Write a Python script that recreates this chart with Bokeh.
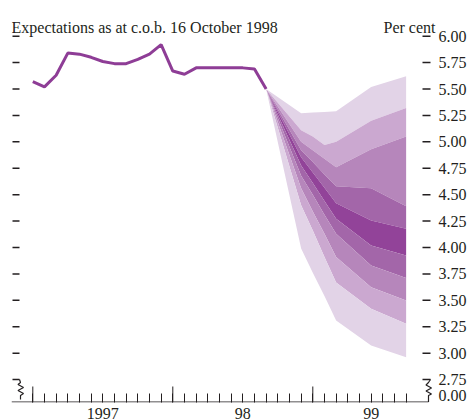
from bokeh.plotting import figure
from bokeh.models import Range1d, LinearAxis, FixedTicker, Label, CustomJSTickFormatter
from bokeh.embed import file_html
from bokeh.resources import INLINE

# ---------------- data ----------------
# months counted from January 1997 (= 0)
hist_months = list(range(21))
cash_rate = [5.57, 5.52, 5.63, 5.84, 5.83, 5.80, 5.76, 5.74, 5.74, 5.78, 5.83,
             5.92, 5.67, 5.64, 5.70, 5.70, 5.70, 5.70, 5.70, 5.69, 5.50]

fan_months = [20, 23, 24, 25, 26, 29, 32]
# band boundaries, from top (b0) to bottom (b9)
b0 = [5.50, 5.27, 5.277, 5.283, 5.29, 5.52, 5.62]
b1 = [5.50, 5.11, 5.05, 4.97, 5.00, 5.20, 5.32]
b2 = [5.50, 5.00, 4.92, 4.84, 4.76, 4.93, 5.05]
b3 = [5.50, 4.92, 4.81, 4.69, 4.58, 4.56, 4.39]
b4 = [5.50, 4.855, 4.71, 4.565, 4.42, 4.256, 4.177]
b5 = [5.50, 4.776, 4.61, 4.44, 4.272, 4.02, 3.925]
b6 = [5.50, 4.68, 4.50, 4.31, 4.13, 3.83, 3.712]
b7 = [5.50, 4.56, 4.34, 4.13, 3.91, 3.625, 3.499]
b8 = [5.50, 4.40, 4.16, 3.91, 3.67, 3.42, 3.278]
b9 = [5.50, 3.99, 3.76, 3.54, 3.31, 3.073, 2.962]

y_ticks = [2.75, 3.00, 3.25, 3.50, 3.75, 4.00, 4.25, 4.50, 4.75, 5.00, 5.25, 5.50, 5.75, 6.00]
zero_label_pos = 2.604          # where the broken axis shows "0.00"
year_starts = [0, 12, 24]
year_label_pos = [6, 18, 29]
year_labels = ["1997", "98", "99"]
month_ticks = list(range(0, 33))

# ---------------- styling ----------------
FONT = "Liberation Serif"
INK = "#231f20"
LINE_C = "#8e3d96"
band_colors = ["#e2d3e7", "#cba8d0", "#b686bb", "#a366a9", "#924399"]

PX_M = 140.0 / 12.0      # px per month
PX_V = 105.67            # px per percentage point
FRAME_W, FRAME_H = 426, 392
x_start = -21.3 / PX_M
x_end = x_start + FRAME_W / PX_M
y_lo = 2.75 - 22.9 / PX_V
y_hi = y_lo + FRAME_H / PX_V

def fx(px):  # px from frame left -> data x
    return x_start + px / PX_M

def fy(py):  # px above frame bottom -> data y
    return y_lo + py / PX_V

p = figure(frame_width=FRAME_W, frame_height=FRAME_H, output_backend="svg",
           toolbar_location=None, y_axis_location=None,
           x_range=Range1d(x_start, x_end), y_range=Range1d(y_lo, y_hi),
           min_border_left=11, min_border_right=0, min_border_top=10,
           min_border_bottom=0)
p.outline_line_color = None
p.grid.visible = False

# fan bands
bounds = [b0, b1, b2, b3, b4, b5, b6, b7, b8, b9]
shade_idx = [0, 1, 2, 3, 4, 3, 2, 1, 0]
for i in range(9):
    p.varea(x=fan_months, y1=bounds[i + 1], y2=bounds[i],
            fill_color=band_colors[shade_idx[i]], fill_alpha=1.0)

# history line
p.line(hist_months, cash_rate, line_color=LINE_C, line_width=3)

# bottom axis (ticks + labels), axis line drawn separately so it stops at the break
xa = p.xaxis[0]
xa.ticker = FixedTicker(ticks=year_label_pos,
                        minor_ticks=[m for m in month_ticks if m not in year_label_pos])
xa.major_label_overrides = {pos: lab for pos, lab in zip(year_label_pos, year_labels)}
xa.major_tick_in = 9
xa.major_tick_out = 0
xa.minor_tick_in = 9
xa.minor_tick_out = 0
xa.axis_line_color = None
xa.major_tick_line_color = INK
xa.minor_tick_line_color = INK
xa.major_label_text_font = FONT
xa.major_label_text_font_size = "16px"
xa.major_label_text_color = INK
xa.major_label_standoff = 5

p.segment(x0=[x_start], y0=[fy(0.5)], x1=[fx(417)], y1=[fy(0.5)],
          line_color=INK, line_width=1)
# long year ticks
p.segment(x0=year_starts, y0=[y_lo] * 3, x1=year_starts, y1=[fy(16)] * 3,
          line_color=INK, line_width=1)

# y tick dashes, both sides
p.segment(x0=[fx(1)] * len(y_ticks), y0=y_ticks, x1=[fx(8)] * len(y_ticks), y1=y_ticks,
          line_color=INK, line_width=1.5)
p.segment(x0=[fx(411)] * len(y_ticks), y0=y_ticks, x1=[fx(419)] * len(y_ticks), y1=y_ticks,
          line_color=INK, line_width=1.5)

# right axis labels
ra = LinearAxis(ticker=FixedTicker(ticks=y_ticks + [zero_label_pos]),
                formatter=CustomJSTickFormatter(
                    code="return tick < 2.7 ? '0.00' : tick.toFixed(2);"),
                major_tick_in=0, major_tick_out=0,
                minor_tick_line_color=None, axis_line_color=None,
                major_tick_line_color=None,
                major_label_text_font=FONT, major_label_text_font_size="16px",
                major_label_text_color=INK, major_label_standoff=1)
p.add_layout(ra, "right")

# axis breaks
lb_x = [8, 9, 6.5, 12, 6.5, 12, 9, 9]
lb_y = [23, 20, 18, 15, 12, 9, 7, 3]
p.line([fx(v) for v in lb_x], [fy(v) for v in lb_y], line_color=INK, line_width=1.2)
rb_x = [419, 417, 414.5, 420, 414.5, 420, 417, 417]
rb_y = [23, 20, 17.5, 14.5, 11.5, 8.5, 7, 0.5]
p.line([fx(v) for v in rb_x], [fy(v) for v in rb_y], line_color=INK, line_width=1.2)

# texts
p.add_layout(Label(x=x_start, y=6.082, text="Expectations as at c.o.b. 16 October 1998",
                   text_font=FONT, text_font_size="16px", text_color=INK,
                   text_align="left", text_baseline="alphabetic"))
p.add_layout(Label(x=fx(424), y=6.082, text="Per cent",
                   text_font=FONT, text_font_size="16px", text_color=INK,
                   text_align="right", text_baseline="alphabetic"))

open("out.html", "w").write(file_html(p, INLINE))
